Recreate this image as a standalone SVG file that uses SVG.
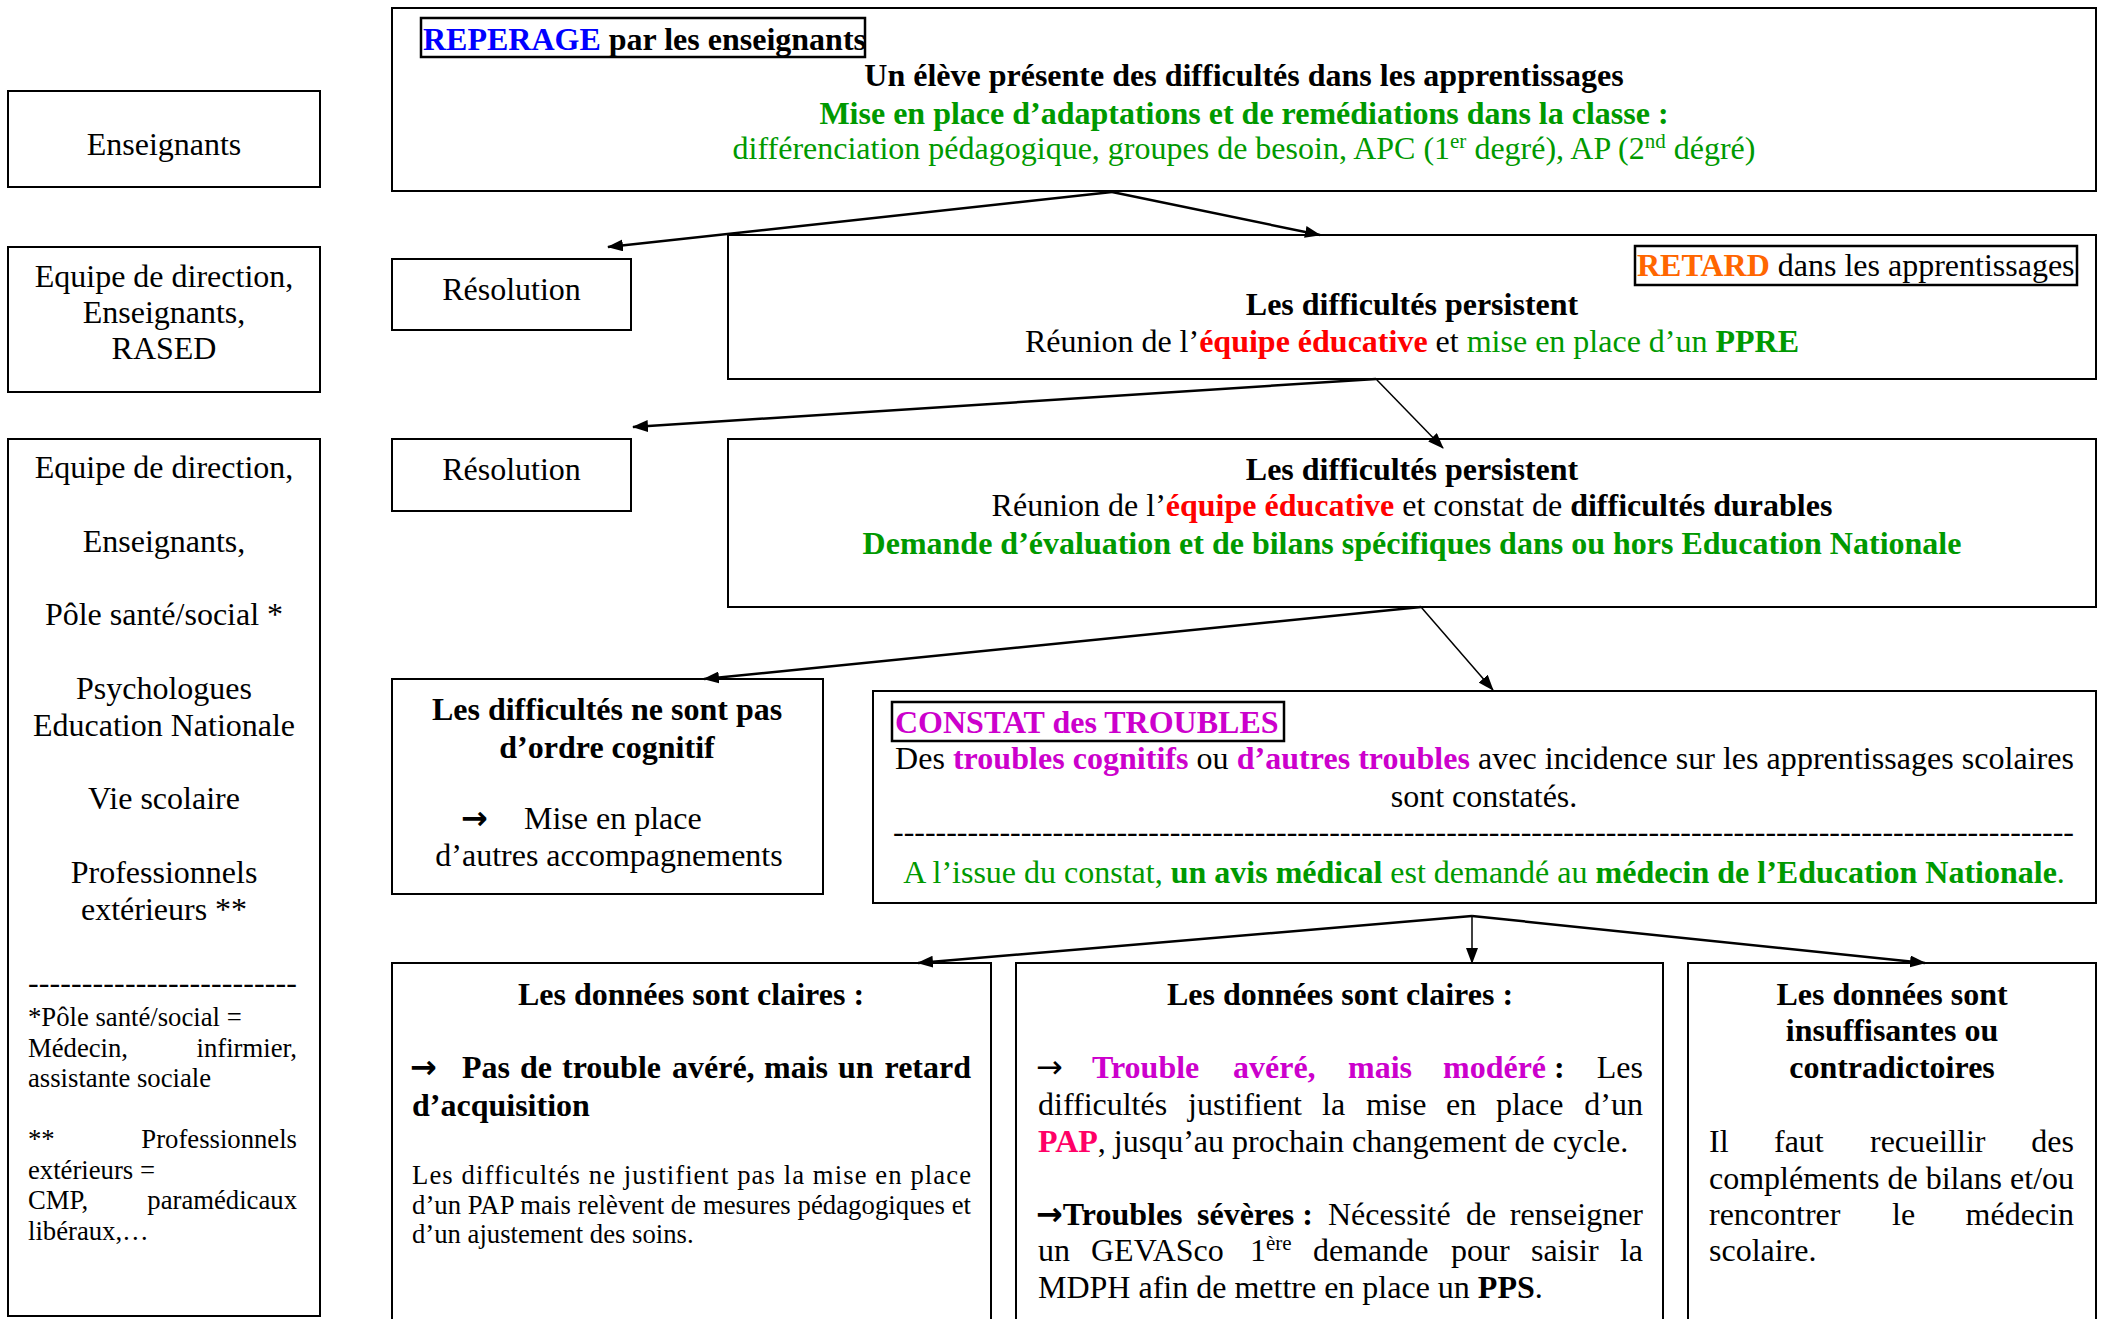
<svg xmlns="http://www.w3.org/2000/svg" width="2105" height="1319" viewBox="0 0 2105 1319">
<defs>
<style>
text{font-family:"Liberation Serif","Times New Roman",serif;font-size:32px;fill:#000}
.b{font-weight:bold}
.s{font-size:26.7px}
.c{text-anchor:middle}
.e{text-anchor:end}
.g{fill:#009900}
.r{fill:#ff0000}
.o{fill:#ff6600}
.m{fill:#cc00cc}
.p{fill:#ff0066}
.bl{fill:#0000ff}
.ar{font-family:"DejaVu Sans",sans-serif;font-size:32px}
.box{fill:#fff;stroke:#000;stroke-width:2}
.lbl{fill:none;stroke:#000;stroke-width:2.5}
.cn{fill:none;stroke:#000;stroke-width:2.5}
.thin{stroke-width:1.5}
</style>
<marker id="ah" markerUnits="userSpaceOnUse" markerWidth="16" markerHeight="12" viewBox="0 0 16 12" refX="15" refY="6" orient="auto"><path d="M0,0 L16,6 L0,12 z" fill="#000"/></marker>
</defs>
<rect width="2105" height="1319" fill="#fff"/>

<g id="acteurs-enseignants">
<rect class="box" x="8" y="91" width="312" height="96"/>
<text x="164" y="155" class="c">Enseignants</text>
</g>

<g id="acteurs-rased">
<rect class="box" x="8" y="247" width="312" height="145"/>
<text x="164" y="287" class="c">Equipe de direction,</text>
<text x="164" y="323" class="c">Enseignants,</text>
<text x="164" y="359" class="c">RASED</text>
</g>

<g id="acteurs-equipe">
<rect class="box" x="8" y="439" width="312" height="877"/>
<text x="164" y="478" class="c">Equipe de direction,</text>
<text x="164" y="551.6" class="c">Enseignants,</text>
<text x="164" y="625.2" class="c">Pôle santé/social *</text>
<text x="164" y="698.8" class="c">Psychologues</text>
<text x="164" y="735.6" class="c">Education Nationale</text>
<text x="164" y="809.2" class="c">Vie scolaire</text>
<text x="164" y="882.8" class="c">Professionnels</text>
<text x="164" y="919.6" class="c">extérieurs **</text>
<text x="28" y="993" textLength="269" lengthAdjust="spacing">-------------------------</text>
<text x="28" y="1026" class="s">*Pôle santé/social =</text>
<text x="28" y="1056.5" class="s">Médecin,</text>
<text x="297" y="1056.5" class="s e">infirmier,</text>
<text x="28" y="1087" class="s">assistante sociale</text>
<text x="28" y="1148" class="s">**</text>
<text x="297" y="1148" class="s e">Professionnels</text>
<text x="28" y="1178.5" class="s">extérieurs =</text>
<text x="28" y="1209" class="s">CMP,</text>
<text x="297" y="1209" class="s e">paramédicaux</text>
<text x="28" y="1239.5" class="s">libéraux,…</text>
</g>

<g id="reperage">
<rect class="box" x="392" y="8" width="1704" height="183"/>
<rect class="lbl" x="421" y="18" width="444" height="39"/>
<text x="423" y="50" class="b"><tspan class="bl">REPERAGE</tspan> par les enseignants</text>
<text x="1244" y="86" class="b c">Un élève présente des difficultés dans les apprentissages</text>
<text x="1244" y="124" class="b c g">Mise en place d’adaptations et de remédiations dans la classe :</text>
<text x="1244" y="159" class="c g">différenciation pédagogique, groupes de besoin, APC (1<tspan dy="-11" font-size="21">er</tspan><tspan dy="11"> degré), AP (2</tspan><tspan dy="-11" font-size="21">nd</tspan><tspan dy="11"> dégré)</tspan></text>
</g>

<g id="resolution-1">
<rect class="box" x="392" y="259" width="239" height="71"/>
<text x="511.5" y="300" class="c">Résolution</text>
</g>

<g id="retard">
<rect class="box" x="728" y="235" width="1368" height="144"/>
<rect class="lbl" x="1635" y="246" width="442" height="39"/>
<text x="1637" y="276"><tspan class="b o">RETARD</tspan> dans les apprentissages</text>
<text x="1412" y="315" class="b c">Les difficultés persistent</text>
<text x="1412" y="352" class="c">Réunion de l’<tspan class="b r">équipe éducative</tspan> et <tspan class="g">mise en place d’un </tspan><tspan class="b g">PPRE</tspan></text>
</g>

<g id="resolution-2">
<rect class="box" x="392" y="439" width="239" height="72"/>
<text x="511.5" y="480" class="c">Résolution</text>
</g>

<g id="difficultes-durables">
<rect class="box" x="728" y="439" width="1368" height="168"/>
<text x="1412" y="480" class="b c">Les difficultés persistent</text>
<text x="1412" y="516" class="c">Réunion de l’<tspan class="b r">équipe éducative</tspan> et constat de <tspan class="b">difficultés durables</tspan></text>
<text x="1412" y="554" class="b c g">Demande d’évaluation et de bilans spécifiques dans ou hors Education Nationale</text>
</g>

<g id="non-cognitif">
<rect class="box" x="392" y="679" width="431" height="215"/>
<text x="607" y="720" class="b c">Les difficultés ne sont pas</text>
<text x="607" y="758" class="b c">d’ordre cognitif</text>
<text x="461" y="829" class="ar b">→</text>
<text x="524" y="829">Mise en place</text>
<text x="609" y="866" class="c">d’autres accompagnements</text>
</g>

<g id="constat">
<rect class="box" x="873" y="691" width="1223" height="212"/>
<rect class="lbl" x="892" y="702" width="392" height="39"/>
<text x="895" y="733" class="b m">CONSTAT des TROUBLES</text>
<text x="895" y="769" textLength="1179" lengthAdjust="spacing">Des <tspan class="b m">troubles cognitifs</tspan> ou <tspan class="b m">d’autres troubles</tspan> avec incidence sur les apprentissages scolaires</text>
<text x="1484" y="807" class="c">sont constatés.</text>
<text x="893" y="842" textLength="1181" lengthAdjust="spacing">---------------------------------------------------------------------------------------------------------------</text>
<text x="1484" y="883" class="c g">A l’issue du constat, <tspan class="b">un avis médical</tspan> est demandé au <tspan class="b">médecin de l’Education Nationale</tspan>.</text>
</g>

<g id="donnees-claires-retard">
<rect class="box" x="392" y="963" width="599" height="420"/>
<text x="691" y="1005" class="b c">Les données sont claires :</text>
<text x="410" y="1078" class="ar b">→</text>
<text x="462" y="1078" class="b">Pas</text>
<text x="520" y="1078" class="b">de</text>
<text x="562" y="1078" class="b">trouble</text>
<text x="672" y="1078" class="b">avéré,</text>
<text x="764" y="1078" class="b">mais</text>
<text x="838" y="1078" class="b">un</text>
<text x="971" y="1078" class="b e">retard</text>
<text x="412" y="1116" class="b">d’acquisition</text>
<text x="412" y="1184" class="s" textLength="559" lengthAdjust="spacing">Les difficultés ne justifient pas la mise en place</text>
<text x="412" y="1214" class="s" textLength="559" lengthAdjust="spacing">d’un PAP mais relèvent de mesures pédagogiques et</text>
<text x="412" y="1243" class="s">d’un ajustement des soins.</text>
</g>

<g id="donnees-claires-trouble">
<rect class="box" x="1016" y="963" width="647" height="420"/>
<text x="1340" y="1005" class="b c">Les données sont claires :</text>
<text x="1036" y="1078" class="ar">→</text>
<text x="1092" y="1078" class="b m">Trouble</text>
<text x="1233" y="1078" class="b m">avéré,</text>
<text x="1348" y="1078" class="b m">mais</text>
<text x="1443" y="1078" class="b"><tspan class="m">modéré</tspan> :</text>
<text x="1643" y="1078" class="e">Les</text>
<text x="1038" y="1115">difficultés</text>
<text x="1188" y="1115">justifient</text>
<text x="1322" y="1115">la</text>
<text x="1366" y="1115">mise</text>
<text x="1446" y="1115">en</text>
<text x="1496" y="1115">place</text>
<text x="1643" y="1115" class="e">d’un</text>
<text x="1038" y="1152"><tspan class="b p">PAP</tspan>, jusqu’au prochain changement de cycle.</text>
<text x="1036" y="1225" class="b"><tspan class="ar">→</tspan>Troubles</text>
<text x="1197" y="1225" class="b">sévères :</text>
<text x="1328" y="1225">Nécessité</text>
<text x="1466" y="1225">de</text>
<text x="1643" y="1225" class="e">renseigner</text>
<text x="1038" y="1261">un</text>
<text x="1091" y="1261">GEVASco</text>
<text x="1250" y="1261">1<tspan dy="-11" font-size="21">ère</tspan></text>
<text x="1313" y="1261">demande</text>
<text x="1451" y="1261">pour</text>
<text x="1531" y="1261">saisir</text>
<text x="1643" y="1261" class="e">la</text>
<text x="1038" y="1298">MDPH afin de mettre en place un <tspan class="b">PPS</tspan>.</text>
</g>

<g id="donnees-insuffisantes">
<rect class="box" x="1688" y="963" width="408" height="420"/>
<text x="1892" y="1005" class="b c">Les données sont</text>
<text x="1892" y="1041" class="b c">insuffisantes ou</text>
<text x="1892" y="1078" class="b c">contradictoires</text>
<text x="1709" y="1152">Il</text>
<text x="1774" y="1152">faut</text>
<text x="1870" y="1152">recueillir</text>
<text x="2074" y="1152" class="e">des</text>
<text x="1709" y="1189" textLength="365" lengthAdjust="spacing">compléments de bilans et/ou</text>
<text x="1709" y="1225">rencontrer</text>
<text x="1892" y="1225">le</text>
<text x="2074" y="1225" class="e">médecin</text>
<text x="1709" y="1261">scolaire.</text>
</g>

<g id="connectors">
<path class="cn" d="M1112,192 L608,247" marker-end="url(#ah)"/>
<path class="cn" d="M1112,192 L1320,235" marker-end="url(#ah)"/>
<path class="cn" d="M1376,379 L633,427" marker-end="url(#ah)"/>
<path class="cn thin" d="M1376,379 L1443,448" marker-end="url(#ah)"/>
<path class="cn" d="M1421,607 L704,679" marker-end="url(#ah)"/>
<path class="cn thin" d="M1421,607 L1493,690" marker-end="url(#ah)"/>
<path class="cn" d="M1472,916 L918,963" marker-end="url(#ah)"/>
<path class="cn thin" d="M1472,916 L1472,963" marker-end="url(#ah)"/>
<path class="cn" d="M1472,916 L1925,963" marker-end="url(#ah)"/>
</g>
</svg>
